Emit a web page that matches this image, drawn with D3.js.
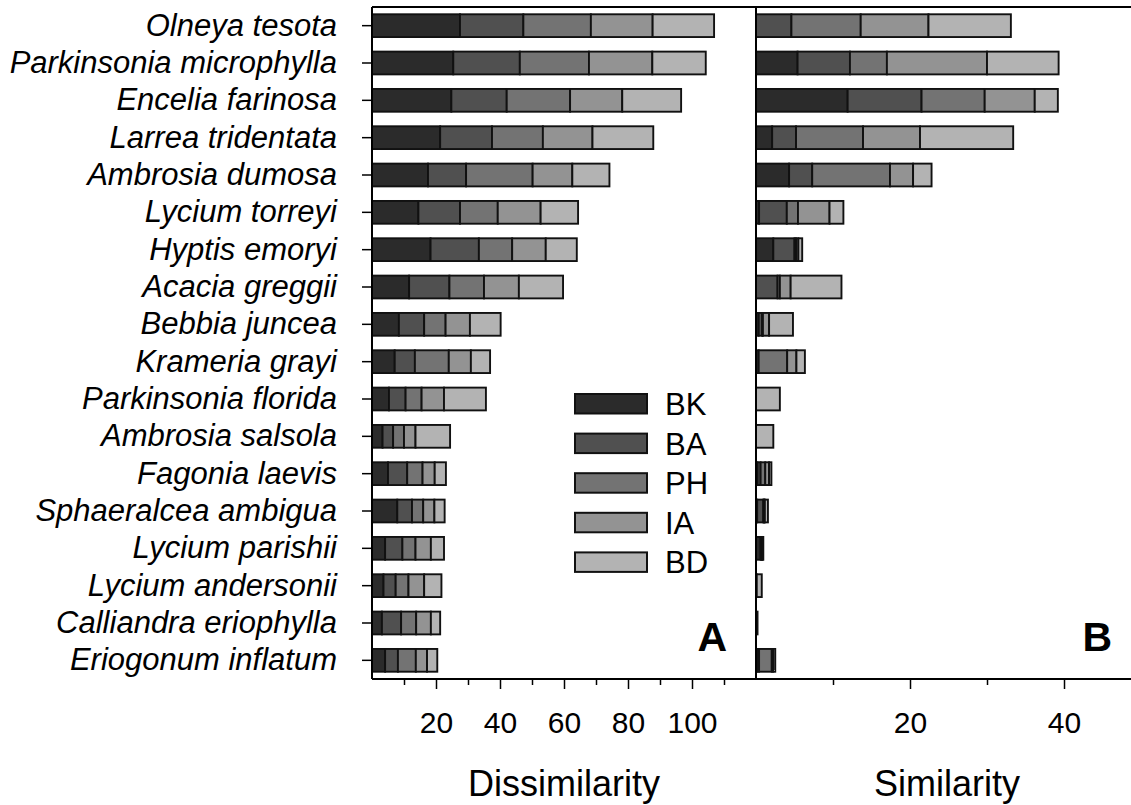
<!DOCTYPE html>
<html>
<head>
<meta charset="utf-8">
<script src="https://cdn.jsdelivr.net/npm/d3@7"></script>
<style>
  html, body { margin: 0; padding: 0; background: #fff; }
  svg { display: block; font-family: "Liberation Sans", Arial, sans-serif; }
</style>
</head>
<body>
<svg id="chart" width="1131" height="805"></svg>
<script>
// Species, top to bottom
const species = [
  "Olneya tesota", "Parkinsonia microphylla", "Encelia farinosa", "Larrea tridentata",
  "Ambrosia dumosa", "Lycium torreyi", "Hyptis emoryi", "Acacia greggii",
  "Bebbia juncea", "Krameria grayi", "Parkinsonia florida", "Ambrosia salsola",
  "Fagonia laevis", "Sphaeralcea ambigua", "Lycium parishii", "Lycium andersonii",
  "Calliandra eriophylla", "Eriogonum inflatum"
];

// Component series (stack order, left to right)
const seriesKeys = ["BK", "BA", "PH", "IA", "BD"];
const seriesColors = ["#2b2b2b", "#505050", "#737373", "#939393", "#b3b3b3"];

// Panel A: dissimilarity contributions
const dissBK = [27.5, 25.4, 24.8, 21.3, 17.5, 14.5, 18.3, 11.6, 8.4, 7.1, 5.3, 3.3, 5.0, 7.9, 4.1, 3.6, 3.1, 4.1];
const dissBA = [19.8, 20.8, 17.3, 16.2, 11.9, 13.0, 15.1, 12.6, 7.9, 6.3, 5.2, 3.3, 6.0, 4.6, 5.4, 3.8, 6.0, 4.0];
const dissPH = [21.1, 21.6, 19.8, 15.9, 20.8, 11.8, 10.4, 10.8, 6.7, 10.6, 5.0, 3.4, 4.8, 3.5, 4.1, 4.0, 4.7, 5.6];
const dissIA = [19.3, 19.8, 16.3, 15.5, 12.4, 13.4, 10.5, 10.9, 7.6, 6.9, 7.0, 3.6, 3.8, 3.5, 4.8, 4.9, 4.6, 3.5];
const dissBD = [19.2, 16.7, 18.4, 19.0, 11.6, 11.7, 9.7, 13.8, 9.6, 6.0, 13.1, 10.8, 3.5, 3.2, 4.1, 5.4, 2.9, 3.2];

// Panel B: similarity contributions
const simBK = [0.0, 5.4, 11.9, 2.1, 4.3, 0.4, 2.25, 0.0, 0.35, 0.35, 0.0, 0.0, 0.2, 0.15, 0.6, 0.1, 0.0, 0.15];
const simBA = [4.6, 6.8, 9.6, 3.1, 3.0, 3.6, 2.75, 2.8, 0.45, 0.0, 0.0, 0.0, 0.4, 0.8, 0.1, 0.0, 0.0, 0.25];
const simPH = [9.0, 4.8, 8.2, 8.7, 10.1, 1.45, 0.2, 0.3, 0.1, 3.7, 0.0, 0.0, 0.6, 0.1, 0.1, 0.0, 0.0, 1.65];
const simIA = [8.8, 13.0, 6.5, 7.4, 3.0, 4.1, 0.3, 1.4, 0.8, 1.2, 0.0, 0.0, 0.5, 0.1, 0.05, 0.0, 0.0, 0.2];
const simBD = [10.7, 9.3, 3.0, 12.1, 2.4, 1.8, 0.5, 6.6, 3.1, 1.1, 3.1, 2.25, 0.3, 0.4, 0.1, 0.65, 0.2, 0.25];

// Axis ticks
const dissMajorTicks = [20, 40, 60, 80, 100];
const dissMinorTicks = [10, 30, 50, 70, 90, 110];
const simMajorTicks = [20, 40];
const simMinorTicks = [10, 30];

const svg = d3.select("#chart");
const FONT = "'Liberation Sans', Arial, sans-serif";

const plotTop = 7, plotBottom = 679;
const aLeft = 372, aRight = 756, bRight = 1131;

const y = d3.scaleBand().domain(species).range([plotTop, plotBottom])
  .paddingInner(0.39).paddingOuter(0.195);

const xA = d3.scaleLinear().domain([0, 120]).range([aLeft, aRight]);
const xB = d3.scaleLinear().domain([0, 48.7]).range([aRight, bRight]);

function rows(arrs) {
  return species.map((s, i) => {
    const r = { species: s };
    seriesKeys.forEach((k, j) => r[k] = arrs[j][i]);
    return r;
  });
}

const stack = d3.stack().keys(seriesKeys);
const stackA = stack(rows([dissBK, dissBA, dissPH, dissIA, dissBD]));
const stackB = stack(rows([simBK, simBA, simPH, simIA, simBD]));

function drawBars(stacked, x, cls) {
  const g = svg.append("g").attr("class", cls);
  stacked.forEach((layer, j) => {
    g.selectAll(null)
      .data(layer.filter(d => d[1] - d[0] > 0))
      .join("rect")
      .attr("x", d => x(d[0]))
      .attr("y", d => y(d.data.species))
      .attr("width", d => x(d[1]) - x(d[0]))
      .attr("height", y.bandwidth())
      .attr("fill", seriesColors[j])
      .attr("stroke", "#111")
      .attr("stroke-width", 1.9);
  });
}

drawBars(stackA, xA, "bars-a");
drawBars(stackB, xB, "bars-b");

// Species axis
const yAxis = svg.append("g")
  .attr("transform", `translate(${aLeft},0)`)
  .call(d3.axisLeft(y).tickSize(10).tickPadding(25));
yAxis.select(".domain").remove();
yAxis.selectAll(".tick line").attr("stroke", "#000").attr("stroke-width", 1.5);
yAxis.selectAll(".tick text")
  .attr("font-family", FONT).attr("font-size", 31).attr("font-style", "italic")
  .attr("fill", "#000");

// Bottom axes
function bottomAxis(x, major, minor) {
  const gMinor = svg.append("g").attr("transform", `translate(0,${plotBottom})`)
    .call(d3.axisBottom(x).tickValues(minor).tickSize(6).tickFormat(""));
  gMinor.select(".domain").remove();
  gMinor.selectAll(".tick line").attr("stroke", "#000").attr("stroke-width", 1.5);
  const gMajor = svg.append("g").attr("transform", `translate(0,${plotBottom})`)
    .call(d3.axisBottom(x).tickValues(major).tickSize(10).tickPadding(23).tickFormat(d3.format("d")));
  gMajor.select(".domain").remove();
  gMajor.selectAll(".tick line").attr("stroke", "#000").attr("stroke-width", 1.5);
  gMajor.selectAll(".tick text")
    .attr("font-family", FONT).attr("font-size", 30).attr("fill", "#000");
}
bottomAxis(xA, dissMajorTicks, dissMinorTicks);
bottomAxis(xB, simMajorTicks, simMinorTicks);

// Frame lines
const frame = svg.append("g").attr("stroke", "#000").attr("stroke-width", 2).attr("fill", "none");
frame.append("line").attr("x1", aLeft).attr("x2", bRight).attr("y1", plotTop).attr("y2", plotTop);
frame.append("line").attr("x1", aLeft).attr("x2", bRight).attr("y1", plotBottom).attr("y2", plotBottom);
frame.append("line").attr("x1", aLeft).attr("x2", aLeft).attr("y1", plotTop).attr("y2", plotBottom);
frame.append("line").attr("x1", aRight).attr("x2", aRight).attr("y1", plotTop).attr("y2", plotBottom);

// Axis titles
svg.append("text").attr("x", (aLeft + aRight) / 2).attr("y", 796)
  .attr("text-anchor", "middle").attr("font-family", FONT).attr("font-size", 36)
  .text("Dissimilarity");
svg.append("text").attr("x", 947).attr("y", 796)
  .attr("text-anchor", "middle").attr("font-family", FONT).attr("font-size", 36)
  .text("Similarity");

// Panel letters
svg.append("text").attr("x", 727).attr("y", 651).attr("text-anchor", "end")
  .attr("font-family", FONT).attr("font-size", 41).attr("font-weight", "bold").text("A");
svg.append("text").attr("x", 1112).attr("y", 651).attr("text-anchor", "end")
  .attr("font-family", FONT).attr("font-size", 41).attr("font-weight", "bold").text("B");

// Legend
const legend = svg.append("g").attr("transform", "translate(575,394)");
const lg = legend.selectAll("g").data(seriesKeys).join("g")
  .attr("transform", (d, i) => `translate(0,${i * 39.6})`);
lg.append("rect").attr("width", 72).attr("height", 19.5)
  .attr("fill", (d, i) => seriesColors[i]).attr("stroke", "#111").attr("stroke-width", 2);
lg.append("text").attr("x", 90).attr("y", 21)
  .attr("font-family", FONT).attr("font-size", 31).text(d => d);
</script>
</body>
</html>
